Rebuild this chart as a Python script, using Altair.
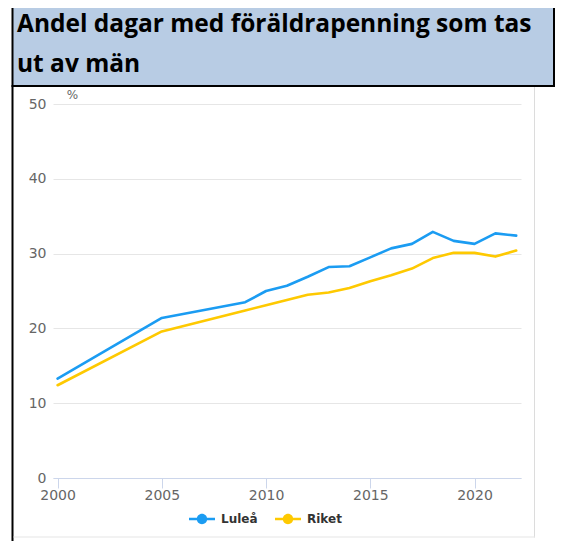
import altair as alt
import pandas as pd

title_text = "Andel dagar med föräldrapenning som tas\nut av män"
series_names = ["Luleå", "Riket"]
series_colors = ["#1b9cf2", "#fec901"]

lulea_years = [2000, 2005, 2009, 2010, 2011, 2012, 2013, 2014, 2015, 2016, 2017, 2018, 2019, 2020, 2021, 2022]
lulea_values = [13.3, 21.4, 23.5, 25.0, 25.7, 26.9, 28.2, 28.3, 29.5, 30.7, 31.3, 32.9, 31.7, 31.3, 32.7, 32.4]

riket_years = [2000, 2005, 2009, 2010, 2011, 2012, 2013, 2014, 2015, 2016, 2017, 2018, 2019, 2020, 2021, 2022]
riket_values = [12.4, 19.6, 22.4, 23.1, 23.8, 24.5, 24.8, 25.4, 26.3, 27.1, 28.0, 29.4, 30.1, 30.1, 29.6, 30.4]

y_ticks = [0, 10, 20, 30, 40, 50]
x_ticks = [2000, 2005, 2010, 2015, 2020]

rows = []
for y, v in zip(lulea_years, lulea_values):
    rows.append({"year": y, "value": v, "series": series_names[0]})
for y, v in zip(riket_years, riket_values):
    rows.append({"year": y, "value": v, "series": series_names[1]})
df = pd.DataFrame(rows)

dummy = pd.DataFrame({"d": [0]})

def box(x, x2, y, y2, color):
    return alt.Chart(dummy).mark_rect(color=color).encode(
        x=alt.value(x), x2=alt.value(x2), y=alt.value(y), y2=alt.value(y2)
    )

title_bg = box(-40, 502, -110, -19, "#b8cce4")
left_border = box(-41.5, -39.5, -110, 450, "#000000")
right_border = box(500, 502, -110, -17, "#000000")
title_bottom = box(-41.5, 502, -19, -17, "#000000")
panel_right = box(481, 482, -17, 433.5, "#dcdcdc")
panel_bottom = box(-39.5, 482, 432.5, 433.5, "#e6e6e6")

# filled legend symbol: thin bar plus circle
symbol_path = ("M -1 -0.1 L 1 -0.1 L 1 0.1 L -1 0.1 Z "
               "M 0.4 0 A 0.4 0.4 0 1 1 -0.4 0 A 0.4 0.4 0 1 1 0.4 0 Z")

x_enc = alt.X("year:Q",
              scale=alt.Scale(domain=[1999.78, 2022.23], nice=False, zero=False),
              axis=alt.Axis(values=x_ticks, format="d", grid=False,
                            domainColor="#ccd6eb", tickColor="#ccd6eb", tickSize=10,
                            labelFont="DejaVu Sans", labelFontSize=14, labelColor="#666666",
                            labelPadding=0, title=None))
y_enc = alt.Y("value:Q",
              scale=alt.Scale(domain=[0, 50], nice=False),
              axis=alt.Axis(values=y_ticks, domain=False, ticks=False,
                            gridColor="#e6e6e6", labelPadding=7,
                            labelFont="DejaVu Sans", labelFontSize=14, labelColor="#666666",
                            title="%", titleAngle=0, titleX=19, titleY=-10,
                            titleAlign="center", titleBaseline="middle",
                            titleFont="DejaVu Sans", titleFontSize=12,
                            titleFontWeight="normal", titleColor="#666666"))
c_enc = alt.Color("series:N",
                  scale=alt.Scale(domain=series_names, range=series_colors),
                  legend=alt.Legend(orient="none", legendX=136, legendY=402,
                                    direction="horizontal", title=None,
                                    symbolType=symbol_path, symbolSize=676,
                                    symbolStrokeWidth=0, symbolOpacity=1,
                                    columnPadding=17, labelOffset=6,
                                    labelFont="DejaVu Sans", labelFontSize=12,
                                    labelFontWeight="bold", labelColor="#333333"))

points = alt.Chart(df).mark_point(filled=True, size=0, opacity=1).encode(
    x=x_enc, y=y_enc, color=c_enc)
lines = alt.Chart(df).mark_line(strokeWidth=2.6, strokeJoin="round", strokeCap="round").encode(
    x=x_enc, y=y_enc, color=c_enc)

title = alt.Chart(dummy).mark_text(
    align="left", baseline="alphabetic", font="Open Sans", fontSize=24.5,
    fontWeight="bold", color="#000000", lineBreak="\n", lineHeight=40
).encode(x=alt.value(-36), y=alt.value(-72), text=alt.value(title_text))

chart = alt.layer(
    title_bg, left_border, right_border, title_bottom, panel_right, panel_bottom,
    points, lines, title
).properties(
    width=468, height=374,
    autosize=alt.AutoSizeParams(type="none"),
    padding={"left": 45, "top": 96, "right": 34, "bottom": 63},
    background="white",
).configure_view(stroke=None)

chart.save("out.html", embed_options={"renderer": "svg", "actions": False})
